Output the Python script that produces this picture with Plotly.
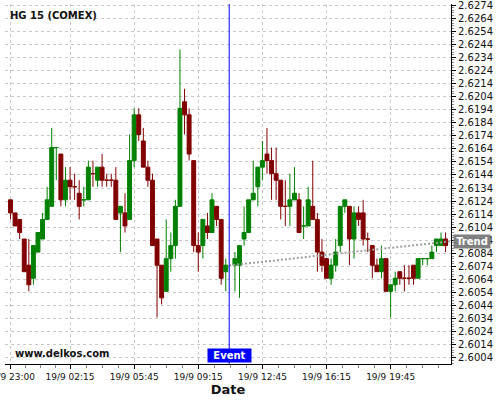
import plotly.graph_objects as go

# ---- data (15-minute bars, indexed from the 23:00 bar) ----
bar_index = list(range(0, 48)) + list(range(49, 96))

opens = [2.6125, 2.6115, 2.6110, 2.6095, 2.6075, 2.6065, 2.6085, 2.6095, 2.6110, 2.6120,
         2.6165, 2.6160, 2.6125, 2.6140, 2.6135, 2.6130, 2.6125, 2.6125, 2.6145, 2.6140,
         2.6150, 2.6140, 2.6140, 2.6140, 2.6115, 2.6115, 2.6110, 2.6155, 2.6190, 2.6170,
         2.6150, 2.6140, 2.6095, 2.6075, 2.6055, 2.6080, 2.6090, 2.6120, 2.6200, 2.6190,
         2.6155, 2.6090, 2.6090, 2.6105, 2.6100, 2.6120, 2.6110, 2.6070,
         2.6075, 2.6075, 2.6095, 2.6100, 2.6125, 2.6135, 2.6150, 2.6160, 2.6155, 2.6145,
         2.6140, 2.6120, 2.6120, 2.6125, 2.6125, 2.6105, 2.6105, 2.6120, 2.6110, 2.6085,
         2.6080, 2.6065, 2.6075, 2.6090, 2.6120, 2.6120, 2.6095, 2.6115, 2.6115, 2.6095,
         2.6090, 2.6075, 2.6070, 2.6080, 2.6055, 2.6060, 2.6070, 2.6065, 2.6065, 2.6075,
         2.6065, 2.6080, 2.6080, 2.6080, 2.6090, 2.6090, 2.6095]

closes = [2.6115, 2.6105, 2.6100, 2.6070, 2.6060, 2.6090, 2.6100, 2.6110, 2.6125, 2.6165,
          2.6165, 2.6125, 2.6140, 2.6135, 2.6135, 2.6120, 2.6125, 2.6150, 2.6145, 2.6150,
          2.6140, 2.6140, 2.6140, 2.6110, 2.6120, 2.6105, 2.6155, 2.6190, 2.6175, 2.6150,
          2.6140, 2.6090, 2.6075, 2.6050, 2.6080, 2.6090, 2.6120, 2.6195, 2.6190, 2.6160,
          2.6090, 2.6085, 2.6110, 2.6100, 2.6125, 2.6110, 2.6065, 2.6075,
          2.6080, 2.6090, 2.6100, 2.6125, 2.6130, 2.6150, 2.6155, 2.6155, 2.6145, 2.6140,
          2.6120, 2.6120, 2.6125, 2.6130, 2.6100, 2.6105, 2.6125, 2.6110, 2.6085, 2.6075,
          2.6065, 2.6075, 2.6085, 2.6120, 2.6125, 2.6095, 2.6115, 2.6110, 2.6095, 2.6095,
          2.6075, 2.6070, 2.6080, 2.6055, 2.6060, 2.6065, 2.6065, 2.6065, 2.6065, 2.6065,
          2.6080, 2.6080, 2.6080, 2.6085, 2.6095, 2.6095, 2.6090]

highs = [2.6125, 2.6115, 2.6110, 2.6095, 2.6095, 2.6090, 2.6100, 2.6115, 2.6135, 2.6180,
         2.6165, 2.6160, 2.6150, 2.6150, 2.6145, 2.6140, 2.6135, 2.6155, 2.6155, 2.6150,
         2.6160, 2.6145, 2.6145, 2.6150, 2.6120, 2.6130, 2.6175, 2.6195, 2.6195, 2.6180,
         2.6155, 2.6145, 2.6095, 2.6075, 2.6110, 2.6100, 2.6125, 2.6240, 2.6210, 2.6195,
         2.6155, 2.6100, 2.6110, 2.6115, 2.6130, 2.6120, 2.6110, 2.6080,
         2.6085, 2.6090, 2.6120, 2.6125, 2.6155, 2.6150, 2.6170, 2.6180, 2.6165, 2.6165,
         2.6140, 2.6140, 2.6145, 2.6150, 2.6130, 2.6120, 2.6135, 2.6155, 2.6115, 2.6095,
         2.6080, 2.6080, 2.6095, 2.6120, 2.6125, 2.6120, 2.6120, 2.6120, 2.6125, 2.6100,
         2.6090, 2.6080, 2.6090, 2.6080, 2.6060, 2.6070, 2.6070, 2.6075, 2.6075, 2.6075,
         2.6080, 2.6080, 2.6080, 2.6090, 2.6095, 2.6100, 2.6100]

lows = [2.6110, 2.6105, 2.6095, 2.6070, 2.6055, 2.6060, 2.6085, 2.6095, 2.6110, 2.6120,
        2.6140, 2.6120, 2.6120, 2.6125, 2.6125, 2.6110, 2.6120, 2.6125, 2.6135, 2.6135,
        2.6135, 2.6135, 2.6135, 2.6110, 2.6085, 2.6100, 2.6110, 2.6150, 2.6170, 2.6150,
        2.6135, 2.6090, 2.6035, 2.6045, 2.6055, 2.6070, 2.6080, 2.6120, 2.6175, 2.6155,
        2.6085, 2.6070, 2.6080, 2.6095, 2.6100, 2.6105, 2.6060, 2.6055,
        2.6055, 2.6050, 2.6090, 2.6100, 2.6125, 2.6120, 2.6140, 2.6145, 2.6125, 2.6125,
        2.6110, 2.6105, 2.6105, 2.6125, 2.6100, 2.6095, 2.6105, 2.6110, 2.6070, 2.6070,
        2.6065, 2.6060, 2.6070, 2.6085, 2.6115, 2.6075, 2.6080, 2.6105, 2.6090, 2.6085,
        2.6065, 2.6070, 2.6065, 2.6055, 2.6035, 2.6055, 2.6060, 2.6055, 2.6060, 2.6060,
        2.6065, 2.6075, 2.6075, 2.6080, 2.6085, 2.6090, 2.6085]

tick_index = [0, 13, 27, 41, 55, 69, 83]
tick_labels = ["19/9 23:00", "19/9 02:15", "19/9 05:45", "19/9 09:15",
               "19/9 12:45", "19/9 16:15", "19/9 19:45"]

event_x = 47.75
trend_x = [47.75, 96.18]
trend_y = [2.60748, 2.60933]

x_range = [-1.2, 96.18]
y_range = [2.59994, 2.62748]

# ---- figure ----
GREEN = "#008000"
RED = "#800000"
FONT = "DejaVu Sans"

fig = go.Figure()
fig.add_trace(go.Scatter(
    x=trend_x, y=trend_y, mode="lines",
    line=dict(color="#a0a0a0", width=2, dash="2px,2px"),
    showlegend=False, hoverinfo="skip"))

fig.add_trace(go.Candlestick(
    x=bar_index, open=opens, high=highs, low=lows, close=closes,
    increasing=dict(line=dict(color=GREEN, width=1), fillcolor=GREEN),
    decreasing=dict(line=dict(color=RED, width=1), fillcolor=RED),
    whiskerwidth=0, showlegend=False, hoverinfo="skip"))

# minor x ticks: quarters between labelled ticks
minor_x = []
for a, b in zip(tick_index[:-1], tick_index[1:]):
    for k in range(1, 4):
        minor_x.append(a + (b - a) * k / 4)
step = (tick_index[-1] - tick_index[-2]) / 4
v = tick_index[-1] + step
while v < x_range[1]:
    minor_x.append(v)
    v += step

fig.update_layout(
    width=500, height=400,
    margin=dict(l=5, r=49, t=4, b=36, autoexpand=False),
    paper_bgcolor="white", plot_bgcolor="white",
    font=dict(family=FONT, size=10, color="#111"),
    boxgap=0.1, boxgroupgap=0.05,
    showlegend=False,
    xaxis=dict(
        range=x_range, rangeslider=dict(visible=False), automargin=False,
        tickmode="array", tickvals=tick_index, ticktext=tick_labels,
        ticklabeloverflow="allow",
        tickfont=dict(family=FONT, size=9, color="#111"),
        ticks="outside", ticklen=4, tickcolor="#000",
        showline=True, linecolor="#000", linewidth=1,
        showgrid=True, gridcolor="#c8c8c8", griddash="3px,3px", gridwidth=1,
        zeroline=False,
        minor=dict(tickmode="array", tickvals=minor_x, ticks="outside",
                   ticklen=3, tickcolor="#888", showgrid=False),
        title=dict(text="<b>Date</b>", font=dict(family=FONT, size=13, color="#111"),
                   standoff=2),
    ),
    yaxis=dict(
        range=y_range, side="right", automargin=False,
        tick0=2.6004, dtick=0.001, tickformat=".4f",
        ticklabeloverflow="allow",
        tickfont=dict(family=FONT, size=10, color="#111"),
        ticks="outside", ticklen=4, tickcolor="#000",
        showline=True, linecolor="#000", linewidth=1,
        showgrid=True, gridcolor="#c8c8c8", griddash="3px,3px", gridwidth=1,
        zeroline=False,
        minor=dict(dtick=0.0002, ticks="outside", ticklen=2, tickcolor="#888",
                   showgrid=False),
    ),
)

# event line + label
fig.add_shape(type="line", xref="x", yref="paper", x0=event_x, x1=event_x,
              y0=0, y1=1, line=dict(color="#0000ff", width=1))
fig.add_annotation(x=event_x, y=0, xref="x", yref="paper", yanchor="bottom",
                   yshift=1, text="<b>Event</b>", showarrow=False,
                   width=43, height=13, borderpad=0, bgcolor="#0000ff",
                   font=dict(family=FONT, size=10, color="white"))

# trend label
fig.add_annotation(x=1, y=trend_y[-1], xref="paper", yref="y", xanchor="left",
                   xshift=2, yanchor="middle", text="<b>Trend</b>", showarrow=False,
                   width=36, height=13, borderpad=0, bgcolor="#808080",
                   font=dict(family=FONT, size=10, color="white"))

# title and watermark
fig.add_annotation(x=0, y=1, xref="paper", yref="paper", xanchor="left", yanchor="top",
                   xshift=3, yshift=-4, text="<b>HG 15 (COMEX)</b>", showarrow=False,
                   font=dict(family=FONT, size=10, color="#111"))
fig.add_annotation(x=0, y=0, xref="paper", yref="paper", xanchor="left", yanchor="bottom",
                   xshift=8, yshift=3, text="<b>www.delkos.com</b>", showarrow=False,
                   font=dict(family=FONT, size=10, color="#111"))

fig.write_html("out.html",
               config={"displayModeBar": False},
               post_script="document.body.style.margin='0px';document.body.style.padding='0px';")
